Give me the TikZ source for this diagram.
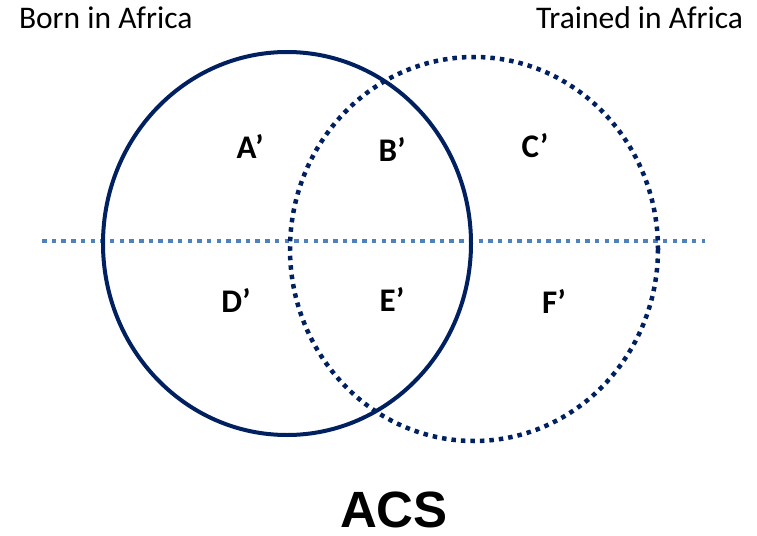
\documentclass[tikz,border=0pt]{standalone}
\usepackage{fontspec}
\setmainfont{Carlito}
\newfontfamily\acsfont{Liberation Sans}
\definecolor{navy}{RGB}{0,32,96}
\definecolor{lblue}{RGB}{79,129,189}
\begin{document}
\begin{tikzpicture}[x=1pt,y=-1pt,
  every node/.style={inner sep=0pt,outer sep=0pt},
  headtext/.style={font=\fontsize{31.5}{36}\selectfont,anchor=base west},
  regionlabel/.style={font=\fontsize{33}{38}\selectfont\bfseries,anchor=base},
  solidring/.style={draw=navy,line width=4pt},
  dotring/.style={draw=navy,line width=4.5pt,dash pattern=on 4.5pt off 5pt},
  midline/.style={draw=lblue,line width=4pt,dash pattern=on 4.5pt off 5.2pt}]
\useasboundingbox (0,0) rectangle (757,535);
\coordinate (L) at (42,240.5);
\coordinate (R) at (705,240.5);
\draw[midline] (L) -- (R);
\draw[dotring] (474,249) ellipse [x radius=184, y radius=192];
\draw[solidring] (287,243.5) ellipse [x radius=184, y radius=191.5];
\node[headtext] (born) at (19,29) {Born in Africa};
\node[headtext] (trained) at (536,29) {Trained in Africa};
\node[regionlabel] (A) at (250,158) {A’};
\node[regionlabel] (B) at (392,161) {B’};
\node[regionlabel] (C) at (535,157) {C’};
\node[regionlabel] (D) at (236,312) {D’};
\node[regionlabel] (E) at (392,311) {E’};
\node[regionlabel] (F) at (554,313) {F’};
\node[font=\acsfont\fontsize{51}{56}\selectfont\bfseries,anchor=base] (acs) at (394,527) {ACS};
\end{tikzpicture}
\end{document}
